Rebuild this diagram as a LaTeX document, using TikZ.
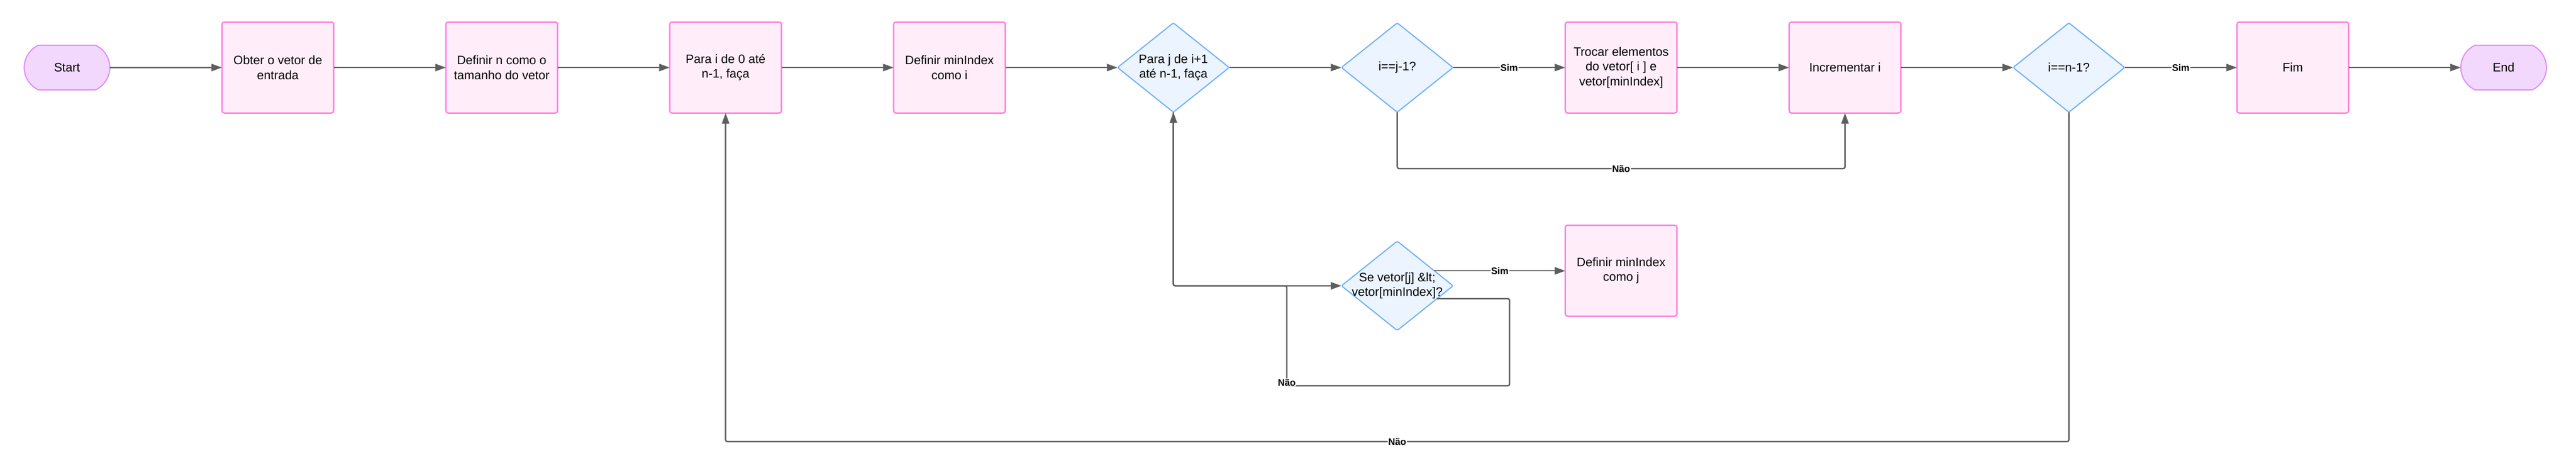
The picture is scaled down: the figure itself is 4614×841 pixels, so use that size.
\documentclass[tikz,border=0pt]{standalone}
\usepackage{fontspec}
\setmainfont{Liberation Sans}
\usetikzlibrary{positioning,shapes.geometric,shapes.misc,arrows.meta}
\definecolor{procfill}{RGB}{255,238,250}
\definecolor{procdraw}{RGB}{255,128,223}
\definecolor{termfill}{RGB}{242,216,252}
\definecolor{termdraw}{RGB}{222,140,250}
\definecolor{decfill}{RGB}{235,244,255}
\definecolor{decdraw}{RGB}{110,176,248}
\definecolor{linegray}{RGB}{94,94,94}

\begin{document}
\begin{tikzpicture}[
     node distance = 201pt,
     font = \fontsize{22}{26.4}\selectfont,
     >={Triangle[length=19pt,width=13pt]},
     ->
    ]
    \tikzstyle{term}=[rounded rectangle, rounded rectangle arc length=130, minimum width=160pt, minimum height=80pt, fill=termfill, draw=termdraw, line width=2pt, outer sep=0pt]
    \tikzstyle{proc}=[rectangle, rounded corners=4pt, minimum width=200pt, minimum height=163pt, fill=procfill, draw=procdraw, line width=2.5pt, align=center, outer sep=0pt]
    \tikzstyle{dec}=[diamond, rounded corners=3pt, minimum width=200pt, minimum height=160pt, fill=decfill, draw=decdraw, line width=2pt, outer sep=0pt]
    \tikzstyle{flow}=[draw=linegray, line width=2.5pt, rounded corners=3pt]
    \tikzstyle{lbl}=[font=\fontsize{17}{20}\selectfont\bfseries, fill=white, inner sep=1pt]

    \useasboundingbox (0,0) rectangle (4614pt,-841pt);

    % main row
    \node[term] (start) at (120pt,-121pt) {Start};
    \node[proc, right=of start] (obter) {Obter o vetor de\\entrada};
    \node[proc, right=of obter] (defn) {Definir n como o\\tamanho do vetor};
    \node[proc, right=of defn] (parai) {Para i de 0 até\\n-1, faça};
    \node[proc, right=of parai] (defmin) {Definir minIndex\\como i};
    \node[dec, right=of defmin, label={[align=center]center:{Para j de i+1\\até n-1, faça}}] (paraj) {};
    \node[dec, right=of paraj, label={center:{i==j-1?}}] (ijm) {};
    \node[proc, right=of ijm] (trocar) {Trocar elementos\\do vetor[ i ] e\\vetor[minIndex]};
    \node[proc, right=of trocar] (incr) {Incrementar i};
    \node[dec, right=of incr, label={center:{i==n-1?}}] (inm) {};
    \node[proc, right=of inm] (fim) {Fim};
    \node[term, right=of fim] (stop) {End};

    % inner loop
    \node[dec, below=231pt of ijm, label={[align=center]center:{Se vetor[j] \&lt;\\vetor[minIndex]?}}] (sevetor) {};
    \node[proc, below=201pt of trocar] (defj) {Definir minIndex\\como j};

    \draw[flow] (start) -- (obter);
    \draw[flow] (obter) -- (defn);
    \draw[flow] (defn) -- (parai);
    \draw[flow] (parai) -- (defmin);
    \draw[flow] (defmin) -- (paraj);
    \draw[flow] (paraj) -- (ijm);
    \draw[flow] (ijm) -- node[lbl] {Sim} (trocar);
    \draw[flow] (trocar) -- (incr);
    \draw[flow] (incr) -- (inm);
    \draw[flow] (inm) -- node[lbl] {Sim} (fim);
    \draw[flow] (fim) -- (stop);
    \draw[flow] (ijm.south) -- ++(0,-101pt) -| node[lbl, pos=0.25] {Não} (incr.south);
    \draw[flow] (inm.south) -- ++(0,-590pt) -| node[lbl, pos=0.25] {Não} (parai.south);
    \draw[flow] (paraj.south) |- (sevetor.west);
    \draw[flow] (sevetor.22) -- node[lbl] {Sim} (sevetor.22 -| defj.west);
    \draw[flow] (sevetor.-18) -- ++(130pt,0) -- ++(0,-156pt) -- ++(-399pt,0) node[lbl, yshift=6pt] {Não}
        |- (paraj.south |- sevetor.west) -- (paraj.south);
\end{tikzpicture}
\end{document}
